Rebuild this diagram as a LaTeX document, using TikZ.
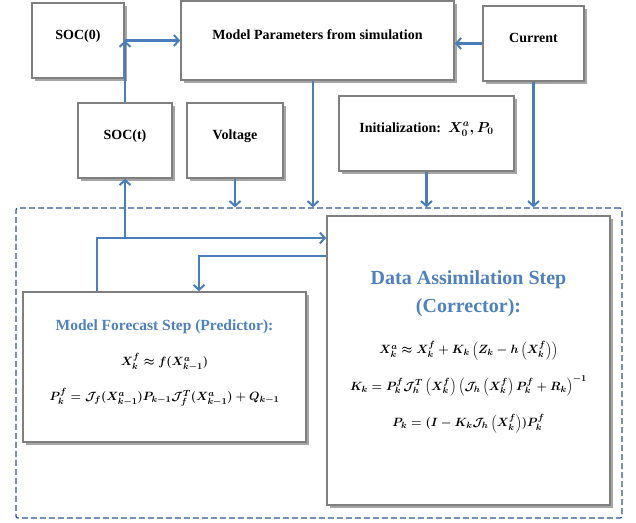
\documentclass[tikz,border=0pt]{standalone}
\usepackage{fontspec}
\setmainfont{Liberation Serif}
\usetikzlibrary{arrows.meta}
\definecolor{flowblue}{HTML}{4A7EBB}
\definecolor{titleblue}{HTML}{4F81BD}
\definecolor{boxgray}{HTML}{7F7F7F}
\definecolor{loopblue}{HTML}{2F5597}
\tikzset{
  box/.style={draw=boxgray, line width=1.6pt, fill=white,
    preaction={fill=black!35, draw=none, transform canvas={xshift=3pt, yshift=-3pt}},
    font=\fontsize{14}{17}\selectfont\bfseries\boldmath,
    minimum height=75pt, text height=10pt, text depth=13pt},
  flow/.style={draw=flowblue, line width=2.4pt,
    -{Straight Barb[length=5pt, width=11pt, line width=2pt]}},
  head/.style={text=titleblue, font=\bfseries, align=center},
  eqs/.style={align=center, font=\fontsize{13}{35}\selectfont\bfseries\boldmath}
}
\begin{document}
\begin{tikzpicture}[x=1pt, y=-1pt]
  \useasboundingbox (0,0) rectangle (636,522);
  % the loop of the filter
  \node[draw=loopblue, line width=1.3pt, dash pattern=on 6pt off 3pt, rounded corners=2pt,
    minimum width=606pt, minimum height=310pt] (loop) at (319,363) {};

  % inputs
  \node[box, minimum width=92pt] (soc0) at (78,40.5) {SOC(0)};
  \node[box, minimum width=273pt, minimum height=79pt] (params) at (317.5,40.5) {Model Parameters from simulation};
  \node[box, minimum width=101pt] (current) at (533.5,43.5) {Current};
  \node[box, minimum width=94pt] (soct) at (125,140.5) {SOC(t)};
  \node[box, minimum width=96pt] (voltage) at (235,140.5) {Voltage};
  \node[box, minimum width=175pt] (init) at (426.5,133.5) {Initialization:\ \ $X_0^a, P_0$};

  % predictor and corrector
  \node[box, minimum width=283pt, minimum height=150pt] (forecast) at (164.5,367) {};
  \node[box, minimum width=283pt, minimum height=289pt] (assim) at (468.5,360.5) {};
  \node[head, font=\fontsize{15.5}{18}\selectfont\bfseries] (forecasthead) at (164.5,327) {Model Forecast Step (Predictor):};
  \node[eqs] (forecasteqs) at (164.5,380) {%
    $X_k^f \approx f(X_{k-1}^a)$\\
    $P_k^f = \mathcal{J}_f(X_{k-1}^a)P_{k-1}\mathcal{J}_f^T(X_{k-1}^a) + Q_{k-1}$};
  \node[head, font=\fontsize{20}{28}\selectfont\bfseries] (assimhead) at (468.5,294) {Data Assimilation Step\\(Corrector):};
  \node[eqs, font=\fontsize{13}{36.5}\selectfont\bfseries\boldmath] (assimeqs) at (468.5,387) {%
    $X_k^a \approx X_k^f + K_k\left(Z_k - h\left(X_k^f\right)\right)$\\
    $K_k = P_k^f\mathcal{J}_h^T\left(X_k^f\right)\left(\mathcal{J}_h\left(X_k^f\right)P_k^f + R_k\right)^{-1}$\\
    $P_k = (I - K_k\mathcal{J}_h\left(X_k^f\right))P_k^f$};

  \coordinate (split) at (97,238);
  \coordinate (tee) at (125,238);
  \coordinate (back) at (199,256);

  \begin{scope}[flow]
    \draw (soc0.east) -- (params.west |- soc0.east);
    \draw (soct.north) -- (soct.north |- soc0.east);
    \draw (current.west) -- (params.east |- current.west);
    \draw (params.south -| 313,0) -- (313,0 |- loop.north);
    \draw (voltage.south) -- (voltage.south |- loop.north);
    \draw (init.south) -- (init.south |- loop.north);
    \draw (current.south) -- (current.south |- loop.north);
    \draw (forecast.north -| split) |- (assim.west |- split);
    \draw (tee) -- (soct.south);
    \draw (assim.west |- back) -| (forecast.north -| back);
  \end{scope}
\end{tikzpicture}
\end{document}
